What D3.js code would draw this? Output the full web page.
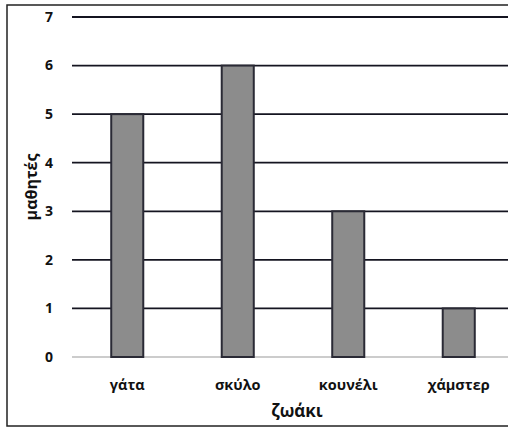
<!DOCTYPE html>
<html>
<head>
<meta charset="utf-8">
<script src="https://cdn.jsdelivr.net/npm/d3@7"></script>
<style>
  body { margin: 0; background: #fff; }
  svg { display: block; }
  text { font-family: "Open Sans", "Noto Sans", sans-serif; font-weight: bold; fill: #111; }
</style>
</head>
<body>
<div class="areaGrafica"></div>
<script>
// data
const zwakia = ['γάτα', 'σκύλο', 'κουνέλι', 'χάμστερ'];
const mathites = [5, 6, 3, 1];
const yTicks = [0, 1, 2, 3, 4, 5, 6, 7];

const w = 508;
const h = 429;

const svg = d3.select('.areaGrafica')
  .append('svg')
  .attr('width', w)
  .attr('height', h);

// outer frame
svg.append('rect')
  .attr('x', 7).attr('y', 5)
  .attr('width', 530).attr('height', 421)
  .attr('fill', 'none')
  .attr('stroke', '#222')
  .attr('stroke-width', 1.5);

const xScale = d3.scaleBand()
  .domain(zwakia)
  .range([72, 514])
  .paddingInner(0.71)
  .paddingOuter(0.355);

const yScale = d3.scaleLinear()
  .domain([0, 7])
  .range([357, 17]);

// grid lines
svg.append('g')
  .selectAll('line')
  .data(yTicks)
  .enter()
  .append('line')
  .attr('x1', 72)
  .attr('x2', w + 5)
  .attr('y1', d => yScale(d))
  .attr('y2', d => yScale(d))
  .attr('stroke', d => d === 0 ? '#9a9a9a' : '#141420')
  .attr('stroke-width', d => d === 0 ? 1.2 : 1.8);

// y tick labels
svg.append('g')
  .selectAll('text')
  .data(yTicks)
  .enter()
  .append('text')
  .attr('x', 49)
  .attr('y', d => yScale(d))
  .attr('dy', '0.35em')
  .attr('text-anchor', 'middle')
  .style('font-size', '14px')
  .text(d => d);

// bars
svg.append('g')
  .selectAll('rect')
  .data(mathites)
  .enter()
  .append('rect')
  .attr('x', (d, i) => xScale(zwakia[i]))
  .attr('width', xScale.bandwidth())
  .attr('y', d => yScale(d))
  .attr('height', d => yScale(0) - yScale(d))
  .attr('fill', '#8c8c8c')
  .attr('stroke', '#2a2a35')
  .attr('stroke-width', 2);

// x category labels
svg.append('g')
  .selectAll('text')
  .data(zwakia)
  .enter()
  .append('text')
  .attr('x', d => xScale(d) + xScale.bandwidth() / 2)
  .attr('y', 385)
  .attr('dy', '0.35em')
  .attr('text-anchor', 'middle')
  .style('font-size', '14.5px')
  .text(d => d);

// axis titles
svg.append('text')
  .attr('x', 297)
  .attr('y', 411)
  .attr('dy', '0.35em')
  .attr('text-anchor', 'middle')
  .style('font-size', '17px')
  .text('ζωάκι');

svg.append('text')
  .attr('transform', 'translate(31,187) rotate(-90)')
  .attr('dy', '0.35em')
  .attr('text-anchor', 'middle')
  .style('font-size', '16px')
  .text('μαθητές');
</script>
</body>
</html>
